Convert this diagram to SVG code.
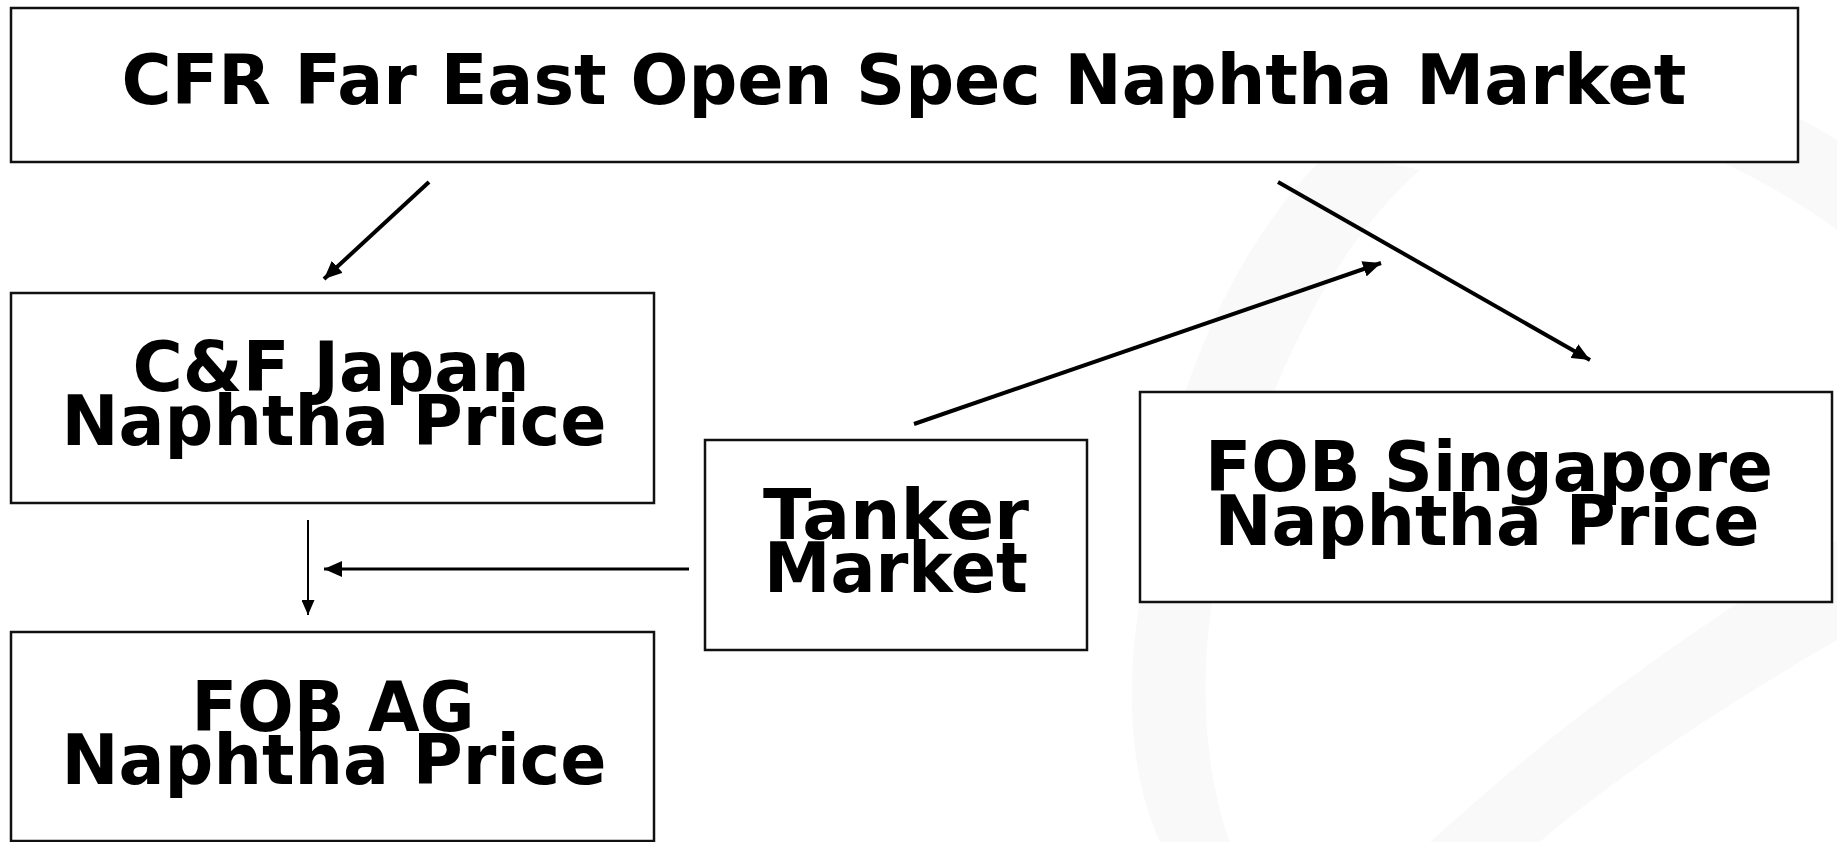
<svg xmlns="http://www.w3.org/2000/svg" width="1837" height="842" viewBox="0 0 1837 842">
  <defs>
    <style>
      .box { fill: #ffffff; stroke: #111111; stroke-width: 2.5; }
      .lbl { font-family: "DejaVu Sans", "Liberation Sans", sans-serif; font-weight: bold; font-size: 69px; fill: #000000; text-anchor: middle; }
      .title { font-size: 69px; }
      .con { stroke: #000000; stroke-width: 4; fill: none; }
      .thin { stroke-width: 2; }
      .mid { stroke-width: 3; }
      .bgshape { fill: #000000; fill-opacity: 0.025; stroke: none; }
    </style>
    <marker id="arrow" viewBox="0 0 18 16" refX="18" refY="8" markerWidth="18" markerHeight="16" markerUnits="userSpaceOnUse" orient="auto">
      <path d="M0,0 L18,8 L0,16 Z" fill="#000000"/>
    </marker>
    <marker id="arrowS" viewBox="0 0 15 13" refX="15" refY="6.5" markerWidth="15" markerHeight="13" markerUnits="userSpaceOnUse" orient="auto">
      <path d="M0,0 L15,6.5 L0,13 Z" fill="#000000"/>
    </marker>
  </defs>

  <rect width="1837" height="842" fill="#ffffff"/>

  <g id="background">
    <path class="bgshape" d="M1330,150 C1220,260 1160,420 1140,600 C1120,720 1140,800 1160,842 L1230,842 C1200,760 1195,640 1230,520 C1270,380 1330,250 1420,170 Z"/>
    <path class="bgshape" d="M1430,842 C1520,760 1640,660 1837,540 L1837,640 C1700,720 1600,790 1540,842 Z"/>
    <path class="bgshape" d="M1500,20 C1620,40 1740,80 1837,140 L1837,230 C1740,160 1620,110 1480,90 Z"/>
  </g>

  <g id="node-cfr-far-east">
    <rect class="box" x="11" y="8" width="1787" height="154"/>
    <text class="lbl title" x="904" y="104" textLength="1565" lengthAdjust="spacingAndGlyphs">CFR Far East Open Spec Naphtha Market</text>
  </g>

  <g id="node-cf-japan">
    <rect class="box" x="11" y="293" width="643" height="210"/>
    <text class="lbl" x="331" y="391" textLength="397" lengthAdjust="spacingAndGlyphs">C&amp;F Japan</text>
    <text class="lbl" x="334" y="445" textLength="545" lengthAdjust="spacingAndGlyphs">Naphtha Price</text>
  </g>

  <g id="node-fob-ag">
    <rect class="box" x="11" y="632" width="643" height="209"/>
    <text class="lbl" x="333" y="731" textLength="283" lengthAdjust="spacingAndGlyphs">FOB AG</text>
    <text class="lbl" x="334" y="784" textLength="545" lengthAdjust="spacingAndGlyphs">Naphtha Price</text>
  </g>

  <g id="node-tanker-market">
    <rect class="box" x="705" y="440" width="382" height="210"/>
    <text class="lbl" x="896" y="539" textLength="266" lengthAdjust="spacingAndGlyphs">Tanker</text>
    <text class="lbl" x="896" y="592" textLength="264" lengthAdjust="spacingAndGlyphs">Market</text>
  </g>

  <g id="node-fob-singapore">
    <rect class="box" x="1140" y="392" width="692" height="210"/>
    <text class="lbl" x="1489" y="491" textLength="568" lengthAdjust="spacingAndGlyphs">FOB Singapore</text>
    <text class="lbl" x="1487" y="545" textLength="545" lengthAdjust="spacingAndGlyphs">Naphtha Price</text>
  </g>

  <g id="connectors">
    <line class="con" x1="429" y1="182" x2="324" y2="279" marker-end="url(#arrow)"/>
    <line class="con" x1="1278" y1="182" x2="1590" y2="360" marker-end="url(#arrow)"/>
    <line class="con" x1="914" y1="424" x2="1381" y2="263" marker-end="url(#arrow)"/>
    <line class="con thin" x1="308" y1="520" x2="308" y2="615" marker-end="url(#arrowS)"/>
    <line class="con mid" x1="689" y1="569" x2="324" y2="569" marker-end="url(#arrow)"/>
  </g>
</svg>
